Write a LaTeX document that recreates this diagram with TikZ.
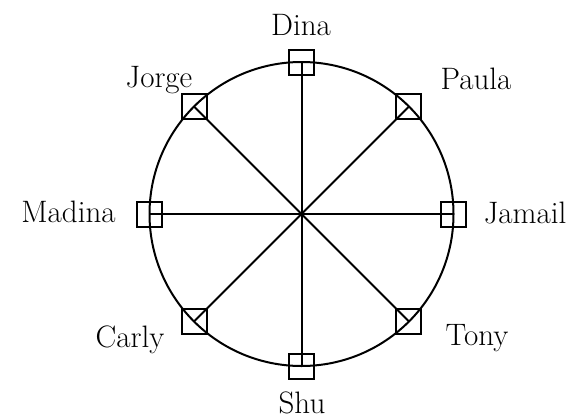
\documentclass[tikz,border=0pt]{standalone}
\begin{document}
\begin{tikzpicture}[x=1pt,y=-1pt,
  sq/.style={draw,line width=2pt,minimum size=25pt,inner sep=0pt},
  lbl/.style={anchor=base,inner sep=0pt,font=\fontsize{31}{36}\selectfont},
  edge/.style={line width=2pt}]
\useasboundingbox (0,0) rectangle (578,418);
\coordinate (c) at (301.5,214);
\draw[line width=2pt] (c) circle[radius=152];
\foreach \n/\a in {dina/90,paula/45,jamail/0,tony/-45,shu/-90,carly/-135,madina/180,jorge/135}{
  \path (c) ++(\a:152 and -152) coordinate (p\n);
}
\foreach \n in {dina,paula,jamail,tony,shu,carly,madina,jorge}{
  \draw[edge] (c) -- (p\n);
  \node[sq] (s\n) at (p\n) {};
}
\node[lbl] (ldina) at (301,35) {Dina};
\node[lbl] (ljorge) at (159,87) {Jorge};
\node[lbl] (lpaula) at (476,89) {Paula};
\node[lbl] (lmadina) at (68.5,222) {Madina};
\node[lbl] (ljamail) at (525,223) {Jamail};
\node[lbl] (lcarly) at (130,347) {Carly};
\node[lbl] (ltony) at (477,345) {Tony};
\node[lbl] (lshu) at (302,413) {Shu};
\end{tikzpicture}
\end{document}
